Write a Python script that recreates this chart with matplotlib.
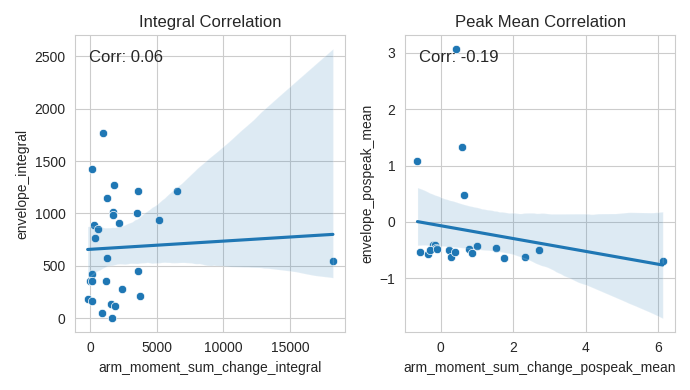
import numpy as np
import pandas as pd
import matplotlib
matplotlib.use("Agg")
import matplotlib.pyplot as plt
import seaborn as sns

# values
integral_x = [955, 147, 1764, 3552, 6541, 1250, 1690, 1690, 3528, 2131,
              5145, 294, 588, 367, 1250, 18228, 3601, 147, -25, 147,
              1176, 2352, 3748, -196, 147, 1544, 1838, 882, 1617]
integral_y = [1771, 1421, 1269, 1212, 1212, 1149, 1010, 985, 1004, 909,
              938, 890, 852, 767, 578, 549, 455, 426, 360, 360,
              360, 275, 208, 180, 161, 133, 114, 47, 0]

peak_x = [0.432, -0.640, 0.595, 0.649, -0.576, -0.351, -0.216, -0.170, -0.124, -0.287,
          -0.108, 0.216, 0.270, 0.405, 0.775, 0.865, 1.000, 1.513, 1.748, 2.324,
          2.703, 6.117]
peak_y = [3.07, 1.084, 1.324, 0.485, -0.526, -0.577, -0.418, -0.41, -0.457, -0.503,
          -0.485, -0.496, -0.628, -0.531, -0.474, -0.559, -0.422, -0.462, -0.645, -0.628,
          -0.491, -0.702]

df_int = pd.DataFrame({"arm_moment_sum_change_integral": integral_x,
                       "envelope_integral": integral_y})
df_peak = pd.DataFrame({"arm_moment_sum_change_pospeak_mean": peak_x,
                        "envelope_pospeak_mean": peak_y})

sns.set_style("whitegrid")
plt.rcParams["font.family"] = ["Liberation Sans", "DejaVu Sans"]

fig, axes = plt.subplots(1, 2, figsize=(6.9, 3.9), dpi=100)

panels = [
    (axes[0], df_int, "arm_moment_sum_change_integral", "envelope_integral", "Integral Correlation"),
    (axes[1], df_peak, "arm_moment_sum_change_pospeak_mean", "envelope_pospeak_mean", "Peak Mean Correlation"),
]

for ax, df, xcol, ycol, title in panels:
    sns.scatterplot(data=df, x=xcol, y=ycol, ax=ax)
    sns.regplot(data=df, x=xcol, y=ycol, ax=ax, scatter=False, seed=3)
    corr = df[xcol].corr(df[ycol])
    ax.text(0.05, 0.95, f"Corr: {corr:.2f}", transform=ax.transAxes,
            fontsize=12, va="top")
    ax.set_title(title)

plt.tight_layout()
plt.savefig("out.png")
